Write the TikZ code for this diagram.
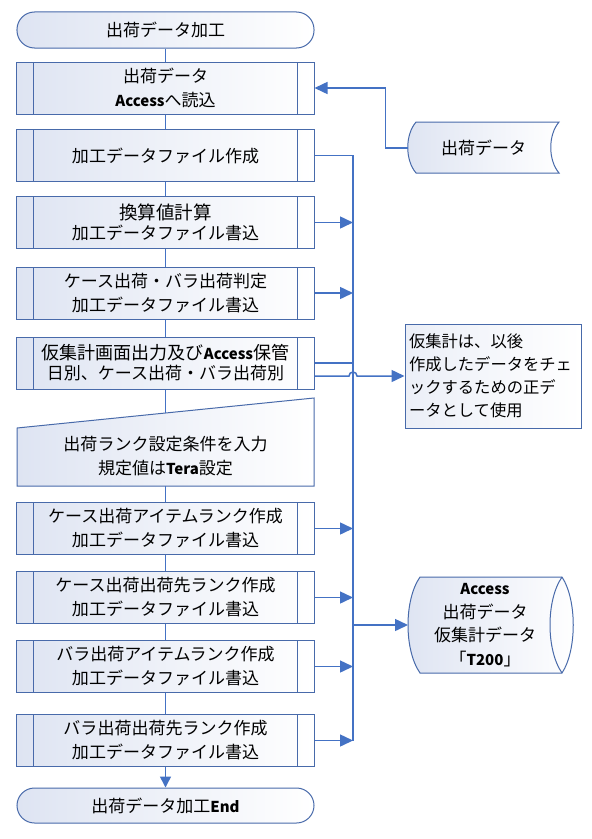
\documentclass[tikz,border=0pt]{standalone}
\usepackage{fontspec}
\setmainfont{Noto Sans CJK JP}
\usetikzlibrary{arrows.meta,positioning}

\definecolor{boxline}{RGB}{72,106,170}
\definecolor{flowline}{RGB}{68,114,196}
\definecolor{boxfill}{RGB}{222,228,242}
\newcommand{\lat}[1]{{\fontsize{15bp}{15bp}\selectfont\bfseries #1}}

\begin{document}
\begin{tikzpicture}[
    x=1bp, y=-1bp,
    every node/.style={font=\fontsize{17bp}{24bp}\selectfont, align=center, inner sep=0pt},
    shapebox/.style={draw=boxline, line width=1bp, left color=boxfill, right color=white},
    term/.style={shapebox, rounded corners=17.5bp, minimum width=297bp, minimum height=36bp},
    proc/.style={shapebox, minimum width=297bp, minimum height=52bp,
        path picture={\draw[boxline, line width=1bp]
            ([xshift=16.5bp]path picture bounding box.north west) -- ([xshift=16.5bp]path picture bounding box.south west)
            ([xshift=-16.5bp]path picture bounding box.north east) -- ([xshift=-16.5bp]path picture bounding box.south east);}},
    tight/.style={font=\fontsize{17bp}{20bp}\selectfont},
    link/.style={draw=flowline, line width=1.5bp},
    arrow/.style={link, -{Triangle[length=13bp,width=12bp]}}
]
    \useasboundingbox (0,0) rectangle (592,839);

    % main column
    \node[term] (start) at (165.5,30) {出荷データ加工};
    \node[proc] (read) at (165.5,88) {出荷データ\\\lat{Access}へ読込};
    \node[proc] (make) at (165.5,155.5) {加工データファイル作成};
    \node[proc, tight] (conv) at (165.5,222.5) {{\fontsize{18.5bp}{20bp}\selectfont 換算値計算}\\加工データファイル書込};
    \node[proc] (judge) at (165.5,293) {ケース出荷・バラ出荷判定\\加工データファイル書込};
    \node[proc, tight] (temp) at (165.5,363) {{\fontsize{18bp}{20bp}\selectfont 仮集計画面出力及び\lat{Access}保管}\\日別、ケース出荷・バラ出荷別};

    % manual input
    \draw[shapebox] (17,428) -- (314,398) -- (314,486) -- (17,486) -- cycle;
    \node (input) at (165.5,456) {出荷ランク設定条件を入力\\規定値は\lat{Tera}設定};
    \coordinate (inputtop) at (165.5,413);
    \coordinate (inputbot) at (165.5,486);

    \node[proc] (caseitem) at (165.5,528.5) {ケース出荷アイテムランク作成\\加工データファイル書込};
    \node[proc] (casedest) at (165.5,597.5) {ケース出荷出荷先ランク作成\\加工データファイル書込};
    \node[proc] (baraitem) at (165.5,666.5) {バラ出荷アイテムランク作成\\加工データファイル書込};
    \node[proc] (baradest) at (165.5,740.5) {バラ出荷出荷先ランク作成\\加工データファイル書込};
    \node[term, minimum height=35bp] (finish) at (165.5,805.5) {出荷データ加工\lat{End}};

    % stored data
    \draw[shapebox] (416,122) -- (559,122) .. controls (548,135) and (548,160) .. (559,173)
        -- (416,173) .. controls (405,160) and (405,135) .. (416,122) -- cycle;
    \node (src) at (483.5,148) {出荷データ};
    \coordinate (srcout) at (408,148);

    % note
    \node[draw=boxline, line width=1bp, left color=boxfill!60!white, right color=white,
        minimum width=176bp, minimum height=104bp, text width=168bp, align=left,
        font=\fontsize{16.3bp}{23bp}\selectfont] (memo) at (493,376)
        {仮集計は、以後\\作成したデータをチェ\\ックするための正デ\\ータとして使用};

    % database
    \draw[shapebox] (420,577) -- (562,577) .. controls (577,600) and (577,650) .. (562,673)
        -- (420,673) .. controls (404,650) and (404,600) .. (420,577) -- cycle;
    \draw[boxline, line width=1bp] (562,577) .. controls (546,600) and (546,650) .. (562,673);
    \node[font=\fontsize{17bp}{23.5bp}\selectfont] (db) at (485,625) {\lat{Access}\\出荷データ\\仮集計データ\\「\lat{T200}」};
    \coordinate (dbin) at (408,625);

    % column links
    \foreach \a/\b in {start/read, read/make, make/conv, conv/judge, judge/temp,
        temp/inputtop, inputbot/caseitem, caseitem/casedest, casedest/baraitem, baraitem/baradest}
        \draw[link] (\a) -- (\b);
    \draw[link, -{Triangle[length=11bp,width=11bp]}] (baradest) -- (finish);

    % input data
    \draw[arrow] (srcout) -| ([xshift=71bp]read.east) -- (read.east);

    % trunk to database
    \coordinate (trunktop) at (353,155.5);
    \coordinate (trunkbot) at (353,740.5);
    \draw[link] (make.east) -- (trunktop) -- (trunkbot);
    \foreach \n in {conv, judge, caseitem, casedest, baraitem, baradest}
        \draw[arrow] (\n.east) -- (\n.east -| trunktop);
    \draw[link] (temp.east) -- (temp.east -| trunktop);
    \draw[arrow] ([yshift=-13bp]temp.east) -- ([yshift=-13bp,xshift=-4bp]temp.east -| trunktop)
        arc[start angle=180, end angle=0, radius=4bp] -- (memo.west);
    \draw[arrow] (dbin -| trunktop) -- (dbin);
\end{tikzpicture}
\end{document}
